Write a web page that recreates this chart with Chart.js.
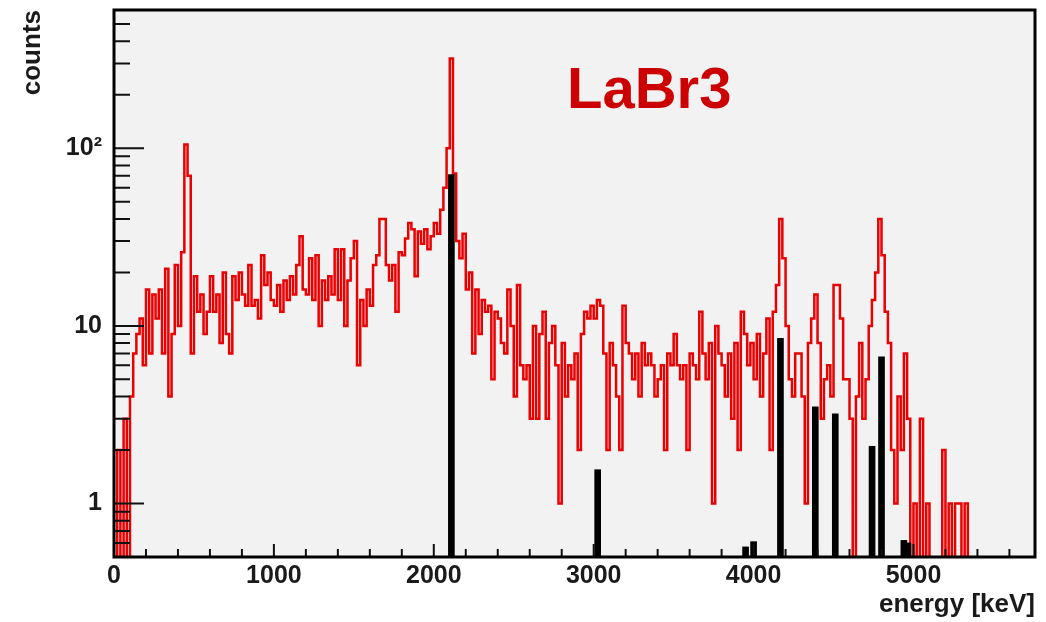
<!DOCTYPE html>
<html>
<head>
<meta charset="utf-8">
<script src="https://cdn.jsdelivr.net/npm/chart.js@4.4.1/dist/chart.umd.min.js"></script>
<style>
  html, body { margin: 0; padding: 0; background: #fff; }
  #wrap { width: 1046px; height: 622px; position: relative; }
</style>
</head>
<body>
<div id="wrap"><canvas id="spectrum"></canvas></div>
<script>
// red spectrum: counts per 20 keV bin, starting at 0 keV
const binWidth = 20;
const counts = [
    0, 2, 0, 3, 0, 4, 7, 9, 11, 6,            // 0-200
    16, 7, 15, 11, 16, 7, 21, 4, 9, 22,       // 200-400
    10, 26, 105, 70, 7, 19, 12, 15, 9, 12,    // 400-600
    19, 12, 15, 8, 20, 9, 7, 19, 14, 20,      // 600-800
    15, 13, 22, 13, 14, 11, 25, 17, 20, 14,   // 800-1000
    13, 17, 12, 18, 14, 19, 15, 22, 32, 16,   // 1000-1200
    15, 24, 14, 25, 10, 18, 14, 19, 15, 27,   // 1200-1400
    14, 27, 10, 18, 24, 30, 6, 14, 10, 16,    // 1400-1600
    13, 22, 25, 40, 40, 22, 18, 22, 12, 26,   // 1600-1800
    25, 31, 38, 35, 19, 34, 29, 35, 27, 32,   // 1800-2000
    38, 33, 45, 60, 100, 320, 72, 30, 24, 33, // 2000-2200
    16, 20, 7, 16, 9, 14, 12, 13, 5, 12,      // 2200-2400
    11, 8, 7, 16, 10, 4, 17, 6, 5, 6,         // 2400-2600
    3, 10, 3, 9, 12, 3, 8, 10, 6, 1,          // 2600-2800
    8, 4, 6, 5, 7, 2, 9, 12, 11, 13,          // 2800-3000
    11, 14, 13, 7, 2, 8, 6, 4, 2, 13,         // 3000-3200
    8, 7, 5, 7, 4, 8, 6, 7, 6, 4,             // 3200-3400
    5, 6, 2, 7, 6, 9, 6, 5, 6, 2,             // 3400-3600
    7, 6, 5, 12, 7, 5, 8, 1, 10, 7,           // 3600-3800
    6, 4, 7, 3, 8, 2, 12, 9, 6, 8,            // 3800-4000
    5, 9, 4, 7, 11, 2, 12, 17, 40, 24,        // 4000-4200
    10, 5, 4, 7, 7, 4, 1, 8, 11, 15,          // 4200-4400
    8, 3, 5, 6, 4, 17, 17, 11, 5, 5,          // 4400-4600
    3, 0, 4, 8, 3, 5, 10, 14, 20, 40,         // 4600-4800
    25, 12, 8, 2, 1, 4, 2, 7, 3, 0,           // 4800-5000
    1, 0, 3, 0, 1, 0, 0, 0, 0, 2,             // 5000-5200
    0, 1, 0, 1, 1, 0, 1, 0, 0, 0              // 5200-5400
];

// black lines
const lineEnergies = [2110, 3025, 3950, 4000, 4168, 4386, 4511, 4741, 4800, 4940, 4965];
const lineCounts = [71, 1.55, 0.57, 0.61, 8.5, 3.5, 3.2, 2.1, 6.7, 0.62, 0.6];

const xTicks = [0, 1000, 2000, 3000, 4000, 5000];
const yTicks = [1, 10, 100];
const yTickLabels = ["1", "10", "10\u00b2"];

const X_MAX = 5760;
const Y_MIN = 0.5;
const Y_MAX = 600;
const EMPTY_BIN = 0.1; // empty bins drop below the axis like in ROOT

const FONT = '"Liberation Sans", Arial, sans-serif';

const histPoints = counts.map((c, i) => ({ x: i * binWidth, y: c > 0 ? c : EMPTY_BIN }));
histPoints.push({ x: counts.length * binWidth, y: EMPTY_BIN });

const linePoints = lineEnergies.map((e, i) => ({ x: e, y: lineCounts[i] }));

const rootFrame = {
    id: "rootFrame",
    beforeDatasetsDraw(chart) {
        const { ctx, chartArea: a } = chart;
        ctx.save();
        ctx.fillStyle = "#f2f2f2";
        ctx.fillRect(a.left, a.top, a.right - a.left, a.bottom - a.top);
        ctx.restore();
    },
    afterDatasetsDraw(chart) {
        const { ctx, chartArea: a, scales } = chart;
        const x = scales.x;
        const y = scales.y;
        ctx.save();
        ctx.strokeStyle = "#111";
        ctx.lineWidth = 2;
        ctx.beginPath();
        for (let v = 0; v <= X_MAX; v += 200) {
            const px = x.getPixelForValue(v);
            const len = v % 1000 === 0 ? 13 : 8;
            ctx.moveTo(px, a.bottom);
            ctx.lineTo(px, a.bottom - len);
        }
        for (let e = -1; e <= 2; e++) {
            for (let d = 1; d <= 9; d++) {
                const v = d * Math.pow(10, e);
                if (v <= Y_MIN * 1.001 || v > Y_MAX) continue;
                const py = y.getPixelForValue(v);
                const len = d === 1 ? 30 : 16;
                ctx.moveTo(a.left, py);
                ctx.lineTo(a.left + len, py);
            }
        }
        ctx.stroke();

        ctx.lineWidth = 3;
        ctx.strokeStyle = "#000";
        ctx.strokeRect(a.left, a.top, a.right - a.left, a.bottom - a.top);

        ctx.fillStyle = "#cc0000";
        ctx.font = "bold 58px " + FONT;
        ctx.textAlign = "left";
        ctx.textBaseline = "alphabetic";
        ctx.fillText("LaBr3", a.left + 453, a.top + 98);
        ctx.restore();
    }
};

new Chart(document.getElementById("spectrum"), {
    type: "line",
    data: {
        datasets: [
            {
                type: "bar",
                label: "lines",
                data: linePoints,
                backgroundColor: "#000",
                borderWidth: 0,
                barThickness: 6,
                grouped: false,
                order: 0
            },
            {
                label: "LaBr3",
                data: histPoints,
                borderColor: "#e80000",
                borderWidth: 2.5,
                pointRadius: 0,
                stepped: "before",
                tension: 0,
                fill: false,
                order: 1
            }
        ]
    },
    options: {
        responsive: true,
        maintainAspectRatio: false,
        devicePixelRatio: 1,
        animation: false,
        layout: { padding: { top: 10, right: 11, left: 0, bottom: 0 } },
        plugins: {
            legend: { display: false },
            tooltip: { enabled: false }
        },
        scales: {
            x: {
                type: "linear",
                min: 0,
                max: X_MAX,
                offset: false,
                grid: { display: false, drawTicks: false, offset: false },
                border: { display: false },
                afterBuildTicks: (scale) => { scale.ticks = xTicks.map(v => ({ value: v })); },
                afterFit: (scale) => {
                    scale.height = 65;
                    scale.paddingLeft = 0;
                    scale.paddingRight = 0;
                },
                ticks: {
                    autoSkip: false,
                    maxRotation: 0,
                    padding: 4,
                    color: "#1a1a1a",
                    font: { family: FONT, size: 25, weight: "bold" },
                    callback: (v) => String(v)
                },
                title: {
                    display: true,
                    text: "energy [keV]",
                    align: "end",
                    color: "#1a1a1a",
                    font: { family: FONT, size: 26, weight: "bold" },
                    padding: { top: 0, bottom: 2 }
                }
            },
            y: {
                type: "logarithmic",
                min: Y_MIN,
                max: Y_MAX,
                grid: { display: false, drawTicks: false },
                border: { display: false },
                afterBuildTicks: (scale) => { scale.ticks = yTicks.map(v => ({ value: v })); },
                afterFit: (scale) => {
                    scale.width = 114;
                    scale.paddingTop = 0;
                    scale.paddingBottom = 0;
                },
                ticks: {
                    autoSkip: false,
                    padding: 12,
                    color: "#1a1a1a",
                    font: { family: FONT, size: 25, weight: "bold" },
                    callback: (v) => {
                        const i = yTicks.indexOf(v);
                        return i >= 0 ? yTickLabels[i] : "";
                    }
                },
                title: {
                    display: true,
                    text: "counts",
                    align: "end",
                    color: "#1a1a1a",
                    font: { family: FONT, size: 26, weight: "bold" },
                    padding: { top: 17, bottom: 0 }
                }
            }
        }
    },
    plugins: [rootFrame]
});
</script>
</body>
</html>
